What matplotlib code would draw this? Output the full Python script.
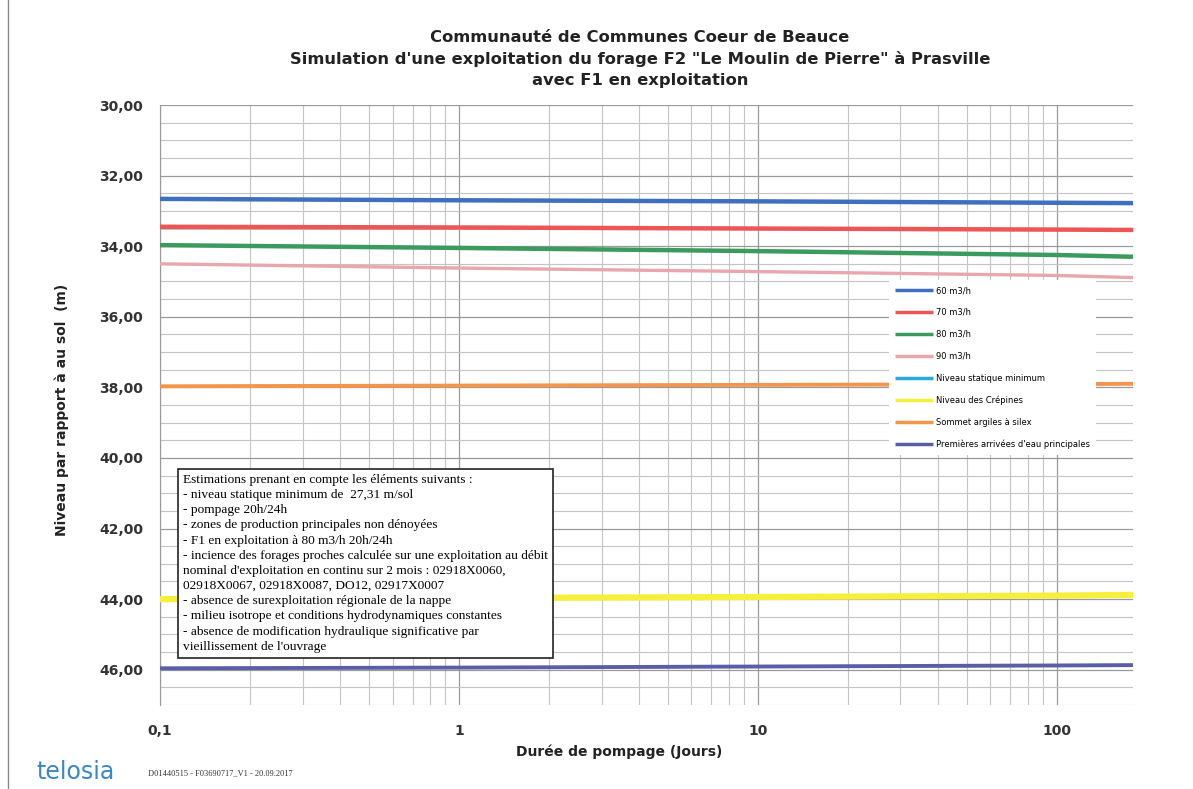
import matplotlib
matplotlib.use("Agg")
import matplotlib.pyplot as plt
import numpy as np
from matplotlib.ticker import FixedLocator, LogLocator, NullFormatter

# ---- data ----
days = [0.1, 1, 10, 100, 180]
q60 = [32.66, 32.70, 32.73, 32.77, 32.78]
q70 = [33.45, 33.47, 33.50, 33.53, 33.54]
q80 = [33.97, 34.05, 34.14, 34.25, 34.30]
q90 = [34.50, 34.62, 34.72, 34.83, 34.89]
niveau_statique = [27.31, 27.31, 27.31, 27.31, 27.31]
crepines = [44.00, 43.97, 43.94, 43.90, 43.88]
argiles = [37.97, 37.95, 37.93, 37.91, 37.90]
arrivees = [45.96, 45.94, 45.91, 45.88, 45.87]

labels = ["60 m3/h", "70 m3/h", "80 m3/h", "90 m3/h", "Niveau statique minimum",
          "Niveau des Crépines", "Sommet argiles à silex",
          "Premières arrivées d'eau principales"]
yticks = [30, 32, 34, 36, 38, 40, 42, 44, 46]
ytick_labels = ["30,00", "32,00", "34,00", "36,00", "38,00", "40,00", "42,00", "44,00", "46,00"]
xticks = [0.1, 1, 10, 100]
xtick_labels = ["0,1", "1", "10", "100"]

title = ("Communauté de Communes Coeur de Beauce\n"
         "Simulation d'une exploitation du forage F2 \"Le Moulin de Pierre\" à Prasville\n"
         "avec F1 en exploitation")
note = ("Estimations prenant en compte les éléments suivants :\n"
        "- niveau statique minimum de  27,31 m/sol\n"
        "- pompage 20h/24h\n"
        "- zones de production principales non dénoyées\n"
        "- F1 en exploitation à 80 m3/h 20h/24h\n"
        "- incience des forages proches calculée sur une exploitation au débit\n"
        "nominal d'exploitation en continu sur 2 mois : 02918X0060,\n"
        "02918X0067, 02918X0087, DO12, 02917X0007\n"
        "- absence de surexploitation régionale de la nappe\n"
        "- milieu isotrope et conditions hydrodynamiques constantes\n"
        "- absence de modification hydraulique significative par\n"
        "vieillissement de l'ouvrage")

series = [q60, q70, q80, q90, niveau_statique, crepines, argiles, arrivees]
colors = ["#3f6fbf", "#ee5557", "#3b9a5e", "#e8a6ad", "#2aa9e0", "#f6f03c", "#f3954a", "#5a5ea6"]
widths = [3.2, 3.2, 3.2, 2.4, 2.4, 4.5, 2.8, 2.8]

W, H = 1193, 789
fig = plt.figure(figsize=(W / 100, H / 100), dpi=100)
ax = fig.add_axes([160 / W, 1 - 705 / H, (1133 - 160) / W, (705 - 105) / H])

for y, c, lw, lab in zip(series, colors, widths, labels):
    ax.plot(days, y, color=c, lw=lw, label=lab, solid_capstyle="butt", zorder=3)

ax.set_xscale("log")
ax.set_xlim(0.1, 180)
ax.set_ylim(47, 30)

ax.xaxis.set_major_locator(FixedLocator(xticks))
ax.set_xticklabels(xtick_labels)
ax.xaxis.set_minor_locator(LogLocator(base=10, subs=np.arange(2, 10)))
ax.xaxis.set_minor_formatter(NullFormatter())
ax.yaxis.set_major_locator(FixedLocator(yticks))
ax.set_yticklabels(ytick_labels)
ax.yaxis.set_minor_locator(FixedLocator(np.arange(30, 47.01, 0.5)))

ax.grid(True, which="major", color="#9a9a9a", lw=0.9)
ax.grid(True, which="minor", color="#c4c4c4", lw=0.8)
ax.tick_params(which="both", length=0)
ax.tick_params(axis="y", labelsize=10, pad=12, colors="#333333")
ax.tick_params(axis="x", labelsize=10, pad=14, colors="#333333")
for lab in ax.get_xticklabels() + ax.get_yticklabels():
    lab.set_fontweight("bold")
for s in ax.spines.values():
    s.set_visible(False)
ax.spines["left"].set_visible(True)
ax.spines["left"].set_color("#9a9a9a")

leg = ax.legend(loc="upper left", bbox_to_anchor=(885 / W, 1 - 276 / H),
                bbox_transform=fig.transFigure, fontsize=6, frameon=True,
                facecolor="white", edgecolor="none", framealpha=1, fancybox=False,
                handlelength=4.6, labelspacing=1.55, handletextpad=0.3, borderpad=0.7)
leg.set_zorder(5)
for line in leg.get_lines():
    line.set_linewidth(2.5)

fig.text(640 / W, 1 - 59 / H, title, ha="center", va="center", fontsize=11.8,
         fontweight="bold", color="#222222", linespacing=1.44)

ax.text(183 / W, 1 - 474 / H, note, transform=fig.transFigure, ha="left", va="top",
        fontsize=9.6, family="Liberation Serif", linespacing=1.35, zorder=6,
        bbox=dict(boxstyle="square,pad=0.4", facecolor="white", edgecolor="#222222", lw=1.2))

fig.text(62 / W, 1 - 410 / H, "Niveau par rapport à au sol  (m)", rotation=90,
         ha="center", va="center", fontsize=10, fontweight="bold", color="#222222")
fig.text(619 / W, 1 - 752 / H, "Durée de pompage (Jours)", ha="center", va="center",
         fontsize=10, fontweight="bold", color="#222222")

fig.text(36 / W, 1 - 772 / H, "telosia", ha="left", va="center", fontsize=17,
         color="#3b86c6", family="DejaVu Sans")
fig.text(148 / W, 1 - 773 / H, "D01440515 - F03690717_V1 - 20.09.2017", ha="left",
         va="center", fontsize=6, family="Liberation Serif", color="#333333")

fig.add_artist(plt.Line2D([8 / W, 8 / W], [0, 1], transform=fig.transFigure,
                          color="#888888", lw=1))

fig.savefig("out.png", dpi=100)
